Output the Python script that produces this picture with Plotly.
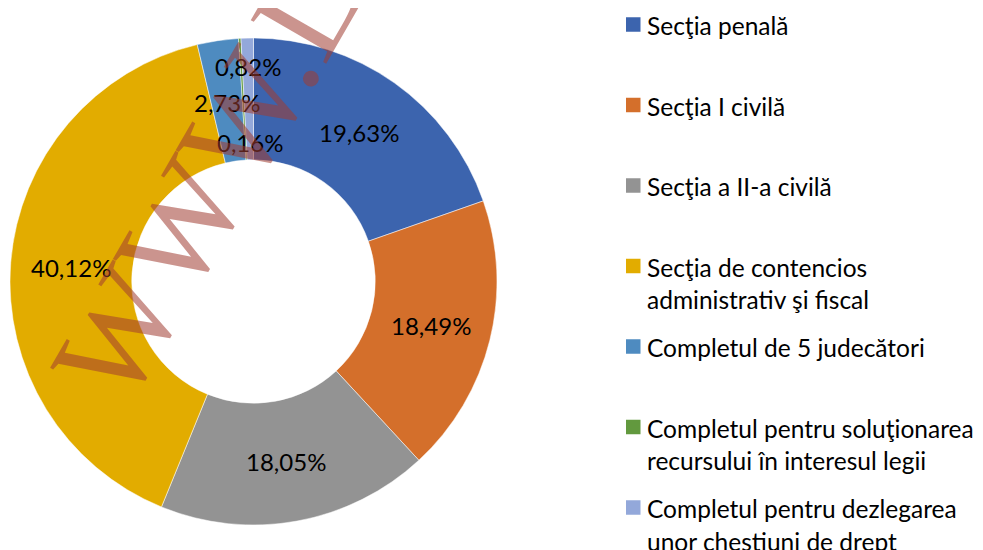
import math
import plotly.graph_objects as go

# ---------------- data ----------------
categories = [
    "Secţia penală",
    "Secţia I civilă",
    "Secţia a II-a civilă",
    "Secţia de contencios administrativ şi fiscal",
    "Completul de 5 judecători",
    "Completul pentru soluţionarea recursului în interesul legii",
    "Completul pentru dezlegarea unor chestiuni de drept",
]
legend_lines = [
    ["Secţia penală"],
    ["Secţia I civilă"],
    ["Secţia a II-a civilă"],
    ["Secţia de contencios", "administrativ şi fiscal"],
    ["Completul de 5 judecători"],
    ["Completul pentru soluţionarea", "recursului în interesul legii"],
    ["Completul pentru dezlegarea", "unor chestiuni de drept"],
]
values = [19.63, 18.49, 18.05, 40.12, 2.73, 0.16, 0.82]
value_labels = ["19,63%", "18,49%", "18,05%", "40,12%", "2,73%", "0,16%", "0,82%"]
colors = ["#3C64AE", "#D46F2B", "#939393", "#E2AC00", "#4E8BC0", "#62993E", "#93A8DA"]

# ---------------- layout geometry ----------------
OFF = 8                    # default page margin of the html body
W, H = 983 - OFF, 550 - OFF
cx, cy, R = 253.5, 281.5, 243.5   # window pixel coordinates
HOLE = 0.5
ring_mid = R * (1 + HOLE) / 2
label_r = [ring_mid, ring_mid, ring_mid, ring_mid, ring_mid * 0.99, ring_mid * 0.76, ring_mid * 1.18]
label_dx = [0, 0, 0, 0, 0, 4, 0]
FONT = "Lato, 'Open Sans', sans-serif"


def px(x):
    return (x - OFF) / W


def py(y):
    return 1 - (y - OFF) / H


fig = go.Figure()
fig.add_trace(go.Pie(
    values=values,
    labels=categories,
    sort=False,
    direction="clockwise",
    rotation=0,
    hole=HOLE,
    marker=dict(colors=colors, line=dict(color="white", width=0.5)),
    textinfo="none",
    hoverinfo="label+percent",
    showlegend=False,
    domain=dict(x=[px(cx - R), px(cx + R)], y=[py(cy + R), py(cy - R)]),
))

annotations = []
total = sum(values)
cum = 0.0
for v, lab, r, dx in zip(values, value_labels, label_r, label_dx):
    th = 2 * math.pi * (cum + v / 2) / total
    cum += v
    x = cx + r * math.sin(th) + dx
    y = cy - r * math.cos(th)
    annotations.append(dict(
        x=px(x), y=py(y), xref="paper", yref="paper", text=lab, showarrow=False,
        xanchor="center", yanchor="middle", font=dict(family=FONT, size=24, color="#000000"),
    ))

# watermark
annotations.append(dict(
    x=px(206), y=py(182), xref="paper", yref="paper", text="WWW.L", showarrow=False,
    textangle=-60, xanchor="center", yanchor="middle",
    font=dict(family="Liberation Serif, serif", size=133, color="rgba(160,60,50,0.55)"),
))

# legend built from category lists
shapes = []
pitch = 80.5
for i, (lines, col) in enumerate(zip(legend_lines, colors)):
    yc = 24.5 + pitch * i
    shapes.append(dict(
        type="rect", xref="paper", yref="paper",
        x0=px(626), x1=px(640.5), y0=py(yc + 7.25), y1=py(yc - 7.25),
        fillcolor=col, line=dict(width=0),
    ))
    for j, line in enumerate(lines):
        annotations.append(dict(
            x=px(645), y=py(yc + 1 + 32.5 * j), xref="paper", yref="paper", text=line,
            showarrow=False, xanchor="left", yanchor="middle",
            font=dict(family=FONT, size=24.5, color="#000000"),
        ))

fig.update_layout(
    width=W, height=H,
    margin=dict(l=0, r=0, t=0, b=0),
    paper_bgcolor="white", plot_bgcolor="white",
    annotations=annotations, shapes=shapes,
)

fig.write_html("out.html", include_plotlyjs=True, config={"displayModeBar": False})
